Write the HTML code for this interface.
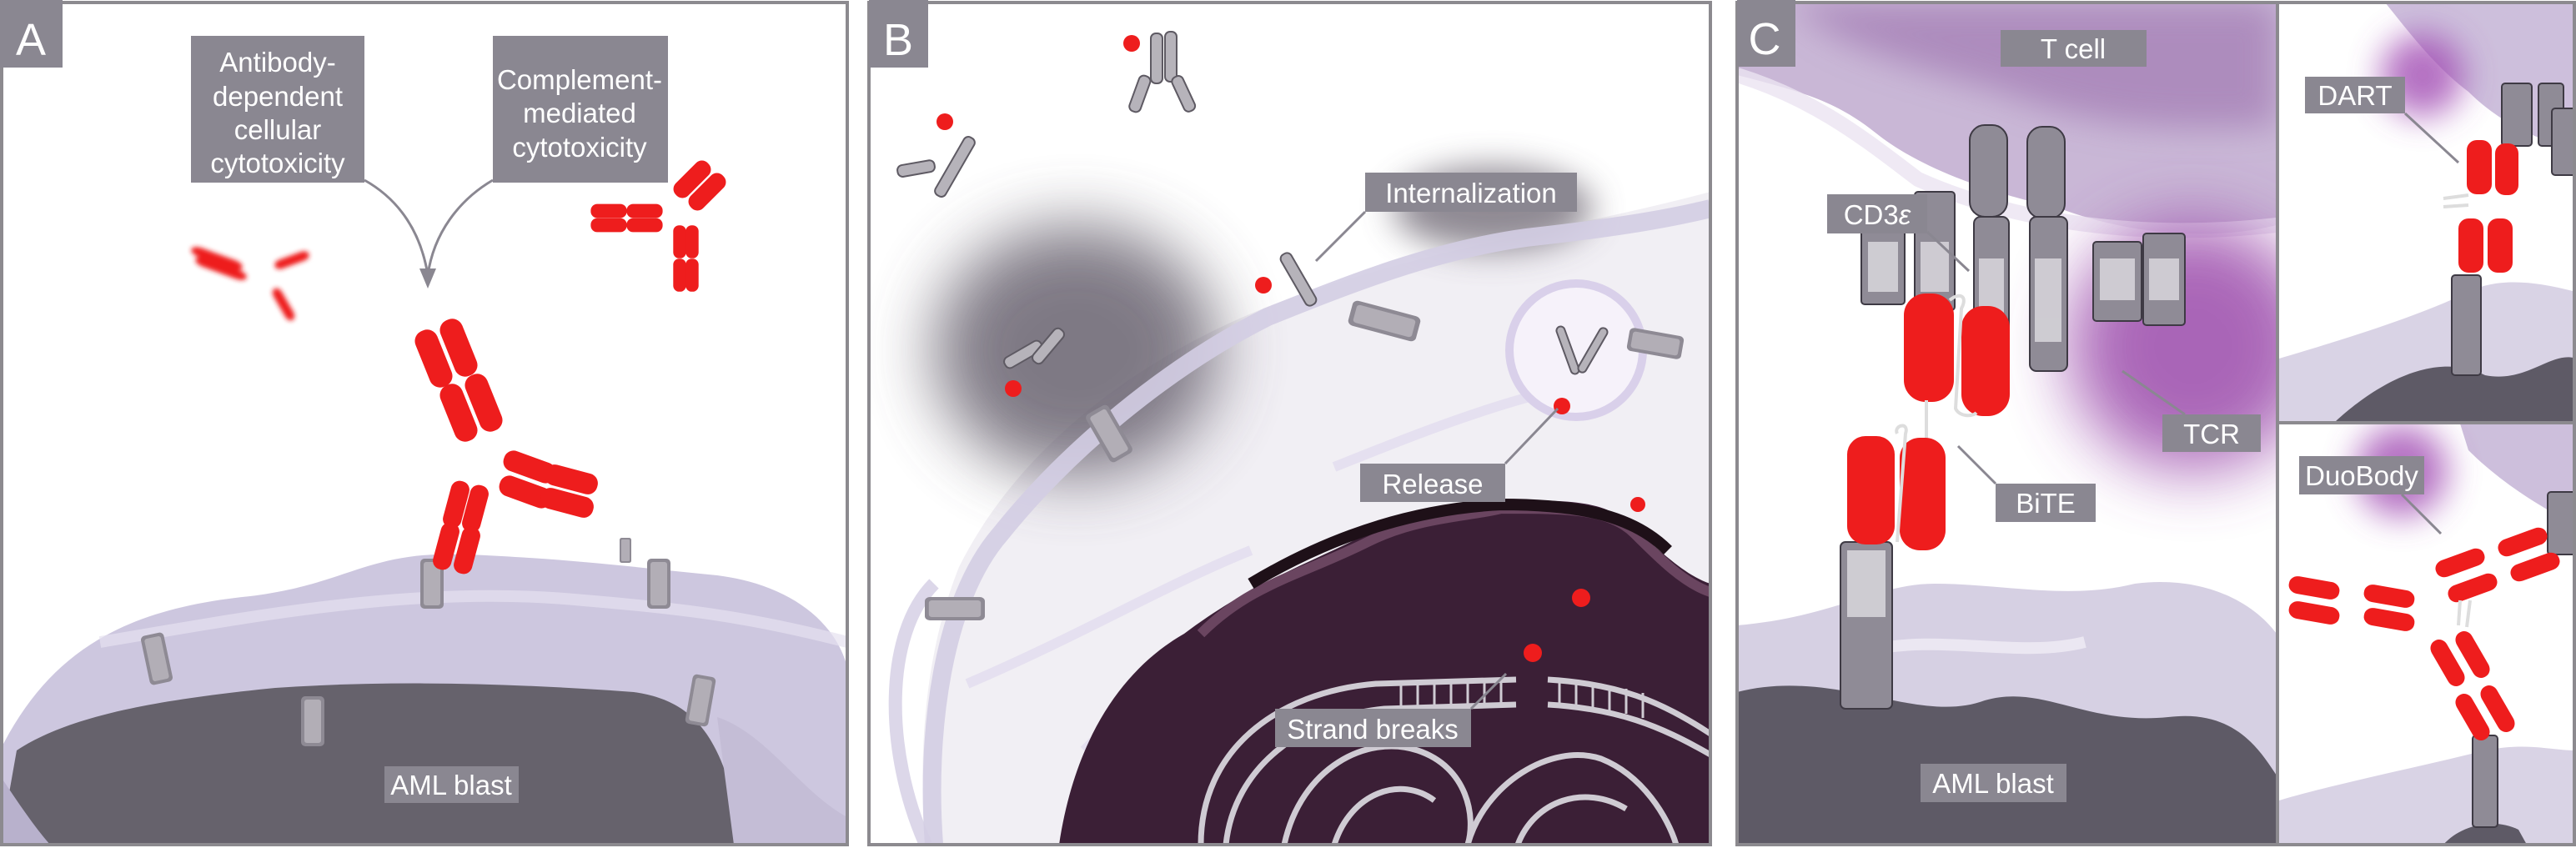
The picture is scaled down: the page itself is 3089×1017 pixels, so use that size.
<!DOCTYPE html>
<html><head><meta charset="utf-8">
<style>
html,body{margin:0;padding:0;background:#fff;}
svg{display:block;}
text{font-family:"Liberation Sans",sans-serif;fill:#fff;}
</style></head>
<body>
<svg width="3089" height="1017" viewBox="0 0 3089 1017" xmlns="http://www.w3.org/2000/svg">
<defs>
<filter id="b20" x="-50%" y="-50%" width="200%" height="200%"><feGaussianBlur stdDeviation="20"/></filter>
<filter id="b40" x="-50%" y="-50%" width="200%" height="200%"><feGaussianBlur stdDeviation="40"/></filter>
<filter id="b3"><feGaussianBlur stdDeviation="3"/></filter>
<clipPath id="cA"><rect x="2" y="3" width="1014" height="1010"/></clipPath>
<clipPath id="cB"><rect x="1042" y="3" width="1009" height="1010"/></clipPath>
<clipPath id="cC"><rect x="2083" y="3" width="647" height="1010"/></clipPath>
<clipPath id="cD"><rect x="2733" y="3" width="354" height="503"/></clipPath>
<clipPath id="cE"><rect x="2733" y="508" width="354" height="505"/></clipPath>
<g id="rec"><rect x="-14" y="-30" width="28" height="60" rx="5" fill="#8e8a94"/><rect x="-10" y="-26" width="20" height="52" rx="3" fill="#c9c6cd" opacity=".6"/></g>
<g id="cap"><rect x="-14" y="-36" width="28" height="72" rx="13" fill="#ee1d1d"/></g>
</defs>

<!-- ============ PANEL A ============ -->
<g clip-path="url(#cA)">
<rect x="2" y="3" width="1014" height="1010" fill="#fff"/>
<path d="M0,900 C60,780 150,730 300,715 C420,700 440,660 560,665 C680,670 760,680 860,690 C940,700 1000,740 1016,800 L1016,1013 L0,1013 Z" fill="#cdc7df"/>
<path d="M120,770 C300,740 500,700 700,720 C820,730 900,740 1016,770" fill="none" stroke="#e6e1ef" stroke-width="14" opacity=".7"/>
<path d="M0,1013 L20,900 C80,860 180,840 330,825 C480,815 620,820 760,830 C830,840 870,880 890,1013 Z" fill="#66626c"/>
<path d="M0,930 C20,960 40,990 60,1013 L0,1013 Z" fill="#b8b1cc"/>
<path d="M860,860 C920,880 960,950 1016,980 L1016,1013 L880,1013 Z" fill="#c4bdd6"/>
<use href="#rec" transform="translate(188,790) rotate(-12)"/>
<use href="#rec" transform="translate(375,865)"/>
<use href="#rec" transform="translate(518,700)"/>
<use href="#rec" transform="translate(790,700)"/>
<use href="#rec" transform="translate(840,840) rotate(10)"/>
<use href="#rec" transform="translate(750,660) scale(.5)"/>
<g transform="translate(580,565)">
<use href="#cap" transform="translate(-60,-135) rotate(-22)"/>
<use href="#cap" transform="translate(-30,-148) rotate(-22)"/>
<use href="#cap" transform="translate(-30,-70) rotate(-22)"/>
<use href="#cap" transform="translate(0,-82) rotate(-22)"/>
<use href="#cap" transform="translate(55,-5) rotate(-70) scale(.9)"/>
<use href="#cap" transform="translate(50,25) rotate(-70) scale(.9)"/>
<use href="#cap" transform="translate(105,10) rotate(-75) scale(.9)"/>
<use href="#cap" transform="translate(100,38) rotate(-75) scale(.9)"/>
<use href="#cap" transform="translate(-33,40) rotate(15) scale(.8)"/>
<use href="#cap" transform="translate(-10,45) rotate(15) scale(.8)"/>
<use href="#cap" transform="translate(-45,90) rotate(15) scale(.8)"/>
<use href="#cap" transform="translate(-20,95) rotate(15) scale(.8)"/>
</g>
<g transform="translate(810,270)">
<use href="#cap" transform="translate(-80,-17) rotate(90) scale(.6)"/>
<use href="#cap" transform="translate(-37,-17) rotate(90) scale(.6)"/>
<use href="#cap" transform="translate(-80,0) rotate(90) scale(.6)"/>
<use href="#cap" transform="translate(-37,0) rotate(90) scale(.6)"/>
<use href="#cap" transform="translate(20,-55) rotate(45) scale(.75)"/>
<use href="#cap" transform="translate(38,-40) rotate(45) scale(.75)"/>
<use href="#cap" transform="translate(5,20) scale(.55)"/>
<use href="#cap" transform="translate(20,20) scale(.55)"/>
<use href="#cap" transform="translate(5,60) scale(.55)"/>
<use href="#cap" transform="translate(20,60) scale(.55)"/>
</g>
<g filter="url(#b3)" transform="translate(325,330)">
<use href="#cap" transform="translate(-65,-20) rotate(-70) scale(.4,.9)"/>
<use href="#cap" transform="translate(-60,-8) rotate(-70) scale(.4,.9)"/>
<use href="#cap" transform="translate(25,-18) rotate(-110) scale(.4,.6)"/>
<use href="#cap" transform="translate(15,35) rotate(-30) scale(.4,.6)"/>
</g>
<path d="M437,216 C480,240 505,280 513,330" fill="none" stroke="#8a8791" stroke-width="3"/>
<path d="M591,216 C550,240 520,280 513,330" fill="none" stroke="#8a8791" stroke-width="3"/>
<polygon points="503,322 523,322 513,346" fill="#8a8791"/>
</g>
<rect x="2" y="3" width="1014" height="1010" fill="none" stroke="#8c8a8f" stroke-width="4"/>
<rect x="0" y="0" width="75" height="81" fill="#8a8791"/>
<text x="37" y="66" font-size="54" text-anchor="middle">A</text>
<rect x="229" y="43" width="208" height="176" fill="#8a8791"/>
<text font-size="33" text-anchor="middle"><tspan x="333" y="86">Antibody-</tspan><tspan x="333" y="127">dependent</tspan><tspan x="333" y="167">cellular</tspan><tspan x="333" y="207">cytotoxicity</tspan></text>
<rect x="591" y="43" width="210" height="176" fill="#8a8791"/>
<text font-size="33" text-anchor="middle"><tspan x="695" y="107">Complement-</tspan><tspan x="695" y="147">mediated</tspan><tspan x="695" y="188">cytotoxicity</tspan></text>
<rect x="461" y="919" width="161" height="44" fill="#8a8791"/>
<text x="541" y="953" font-size="33" text-anchor="middle">AML blast</text>

<!-- ============ PANEL B ============ -->
<g clip-path="url(#cB)">
<rect x="1042" y="3" width="1009" height="1010" fill="#fff"/>
<path d="M1110,1013 C1100,900 1110,780 1150,680 C1230,520 1400,400 1600,340 C1760,290 1900,270 2051,230 L2051,1013 Z" fill="#f1eff4"/>
<ellipse cx="1290" cy="420" rx="170" ry="150" fill="#5f5866" filter="url(#b40)" opacity=".8"/>
<ellipse cx="1790" cy="250" rx="120" ry="50" fill="#6a6470" filter="url(#b20)" opacity=".75"/>
<path d="M1120,1013 C1110,880 1130,720 1200,640 C1280,540 1400,440 1520,380 C1620,340 1720,300 1830,285 C1920,275 1990,265 2051,250" fill="none" stroke="#d3cde3" stroke-width="22" opacity=".9"/>
<path d="M1110,1013 C1060,900 1060,760 1120,700" fill="none" stroke="#d3cde3" stroke-width="16" opacity=".8"/>
<path d="M1160,820 C1300,760 1400,700 1500,660 M1300,900 C1400,800 1500,760 1650,700 M1600,560 C1700,520 1800,480 1900,460" fill="none" stroke="#ddd6ec" stroke-width="12" opacity=".6"/>
<circle cx="1890" cy="420" r="80" fill="#f6f2fa" stroke="#d9d0ea" stroke-width="10"/>
<path d="M1270,1013 C1290,880 1350,800 1420,760 C1500,700 1560,680 1640,640 C1700,610 1760,615 1800,600 C1880,600 1920,600 1950,625 C1990,660 2020,690 2051,700 L2051,1013 Z" fill="#3b1f36"/>
<path d="M1440,760 C1500,700 1560,690 1640,650 C1700,620 1760,620 1800,610 C1880,610 1930,610 1960,640 C1990,670 2020,700 2051,710" fill="none" stroke="#6a4560" stroke-width="12"/>
<path d="M1500,700 C1600,640 1700,610 1800,605 C1900,605 1960,620 2000,660" fill="none" stroke="#1e1018" stroke-width="14"/>
<g fill="none" stroke="#cfcbd3" stroke-width="7">
<path d="M1440,1013 C1440,900 1530,830 1650,820 L1818,815"/>
<path d="M1470,1013 C1480,920 1560,860 1660,850 L1818,845"/>
<path d="M1856,815 C1940,820 1990,840 2051,880"/>
<path d="M1856,845 C1940,850 1990,870 2051,905"/>
<path d="M1540,1013 C1560,920 1640,880 1700,900 C1760,920 1770,980 1760,1013"/>
<path d="M1600,1013 C1620,950 1680,930 1720,960"/>
<path d="M1760,1013 C1780,940 1860,890 1920,910 C1970,930 2000,980 2010,1013"/>
<path d="M1820,1013 C1840,960 1900,940 1950,970"/>
</g>
<g stroke="#cfcbd3" stroke-width="3">
<path d="M1680,820 V850 M1700,819 V849 M1720,818 V848 M1740,817 V847 M1760,816 V846 M1780,816 V846 M1800,815 V845 M1870,816 V846 M1890,817 V847 M1910,819 V849 M1930,822 V852 M1950,826 V856 M1970,831 V861"/>
</g>
<use href="#rec" transform="translate(1330,520) rotate(-30) scale(1.1)"/>
<use href="#rec" transform="translate(1145,730) rotate(90) scale(1,1.2)"/>
<use href="#rec" transform="translate(1660,385) rotate(-75) scale(1.1,1.4)"/>
<use href="#rec" transform="translate(1985,412) rotate(-80) scale(1,1.1)"/>
<g fill="#b6b3ba" stroke="#5e5a63" stroke-width="2">
<rect x="1380" y="40" width="14" height="60" rx="6"/><rect x="1397" y="38" width="14" height="60" rx="6"/>
<rect x="1360" y="90" width="14" height="45" rx="6" transform="rotate(20 1367 112)"/><rect x="1412" y="90" width="14" height="45" rx="6" transform="rotate(-25 1419 112)"/>
<rect x="1138" y="160" width="14" height="80" rx="6" transform="rotate(30 1145 200)"/><rect x="1092" y="180" width="14" height="45" rx="6" transform="rotate(80 1099 202)"/>
<rect x="1220" y="400" width="14" height="50" rx="6" transform="rotate(60 1227 425)"/><rect x="1250" y="390" width="14" height="50" rx="6" transform="rotate(40 1257 415)"/>
<rect x="1550" y="300" width="14" height="70" rx="6" transform="rotate(-30 1557 335)"/>
<rect x="1875" y="390" width="10" height="60" rx="5" transform="rotate(-20 1880 420)"/>
<rect x="1905" y="390" width="10" height="60" rx="5" transform="rotate(30 1910 420)"/>
</g>
<g fill="#ee1d1d">
<circle cx="1357" cy="52" r="10"/><circle cx="1133" cy="146" r="10"/><circle cx="1215" cy="466" r="10"/>
<circle cx="1515" cy="342" r="10"/><circle cx="1873" cy="487" r="10"/><circle cx="1964" cy="605" r="9"/>
<circle cx="1896" cy="717" r="11"/><circle cx="1838" cy="783" r="11"/>
</g>
<g stroke="#8a8791" stroke-width="3">
<line x1="1637" y1="254" x2="1578" y2="313"/>
<line x1="1805" y1="556" x2="1868" y2="490"/>
<line x1="1764" y1="850" x2="1806" y2="808"/>
</g>
</g>
<rect x="1042" y="3" width="1009" height="1010" fill="none" stroke="#8c8a8f" stroke-width="4"/>
<rect x="1042" y="0" width="71" height="81" fill="#8a8791"/>
<text x="1077" y="66" font-size="54" text-anchor="middle">B</text>
<rect x="1637" y="207" width="254" height="47" fill="#8a8791"/>
<text x="1764" y="243" font-size="33" text-anchor="middle">Internalization</text>
<rect x="1631" y="556" width="174" height="46" fill="#8a8791"/>
<text x="1718" y="592" font-size="33" text-anchor="middle">Release</text>
<rect x="1529" y="850" width="235" height="46" fill="#8a8791"/>
<text x="1646" y="886" font-size="33" text-anchor="middle">Strand breaks</text>

<!-- ============ PANEL C main ============ -->
<g clip-path="url(#cC)">
<rect x="2083" y="3" width="647" height="1010" fill="#fff"/>
<path d="M2083,3 L2730,3 L2730,270 C2650,290 2550,280 2470,250 C2380,230 2300,200 2250,160 C2200,120 2160,110 2083,90 Z" fill="#c9b7d6"/>
<path d="M2150,3 L2730,3 L2730,150 C2600,160 2500,150 2400,110 C2300,80 2200,60 2150,3 Z" fill="#a27ab3" opacity=".7" filter="url(#b20)"/>
<path d="M2083,90 C2180,120 2240,170 2300,215 C2400,260 2550,290 2730,270" fill="none" stroke="#ebe4f1" stroke-width="18" opacity=".8"/>
<circle cx="2630" cy="415" r="150" fill="#9b4cab" filter="url(#b40)" opacity=".85"/>
<path d="M2083,750 C2200,740 2250,700 2320,700 C2400,700 2480,720 2560,700 C2640,690 2700,720 2730,760 L2730,1013 L2083,1013 Z" fill="#d6d0e3"/>
<path d="M2083,830 C2200,800 2300,870 2380,840 C2450,820 2500,870 2600,860 C2680,850 2710,900 2730,930 L2730,1013 L2083,1013 Z" fill="#5e5a66"/>
<path d="M2240,780 C2330,760 2420,790 2500,770" fill="none" stroke="#f0ecf5" stroke-width="14" opacity=".8"/>
<g fill="#8f8b96" stroke="#3e3a44" stroke-width="2">
<rect x="2362" y="150" width="45" height="110" rx="18"/><rect x="2431" y="152" width="45" height="110" rx="18"/>
<rect x="2367" y="260" width="42" height="185" rx="8"/><rect x="2434" y="260" width="45" height="185" rx="8"/>
<rect x="2232" y="245" width="52" height="120" rx="4"/><rect x="2296" y="230" width="48" height="142" rx="4"/>
<rect x="2510" y="290" width="58" height="95" rx="4"/><rect x="2570" y="280" width="50" height="110" rx="4"/>
<rect x="2207" y="650" width="62" height="200" rx="6"/>
</g>
<g fill="#e3e1e6" opacity=".75">
<rect x="2240" y="290" width="36" height="60"/><rect x="2303" y="290" width="34" height="60"/>
<rect x="2373" y="310" width="30" height="100"/><rect x="2440" y="310" width="32" height="100"/>
<rect x="2518" y="310" width="42" height="50"/><rect x="2577" y="310" width="36" height="50"/>
<rect x="2215" y="660" width="46" height="80"/>
</g>
<g fill="#ee1d1d">
<rect x="2283" y="352" width="60" height="130" rx="26"/>
<rect x="2352" y="367" width="58" height="132" rx="26"/>
<rect x="2215" y="523" width="57" height="130" rx="22"/>
<rect x="2278" y="525" width="55" height="135" rx="24"/>
</g>
<path d="M2338,360 C2350,350 2360,355 2352,370 L2345,490 C2350,500 2365,500 2370,495 M2310,480 L2310,525 M2275,520 C2270,510 2290,505 2285,520 L2275,650" fill="none" stroke="#ddd" stroke-width="4"/>
<g stroke="#8a8791" stroke-width="3">
<line x1="2311" y1="278" x2="2361" y2="325"/>
<line x1="2620" y1="497" x2="2545" y2="445"/>
<line x1="2393" y1="580" x2="2348" y2="535"/>
</g>
</g>
<g clip-path="url(#cD)">
<rect x="2733" y="3" width="354" height="503" fill="#fff"/>
<path d="M2860,3 L3089,3 L3089,180 C3050,170 3000,150 2960,110 C2920,80 2890,40 2860,3 Z" fill="#cdbfdc"/>
<circle cx="2905" cy="90" r="50" fill="#a24db4" filter="url(#b20)" opacity=".8"/>
<path d="M2733,430 C2800,410 2900,380 2960,350 C3000,330 3050,340 3089,350 L3089,506 L2733,506 Z" fill="#d9d3e5"/>
<path d="M2800,506 C2850,460 2920,420 2980,450 C3030,460 3060,420 3089,430 L3089,506 Z" fill="#5e5a66"/>
<g fill="#8f8b96" stroke="#3e3a44" stroke-width="2">
<rect x="3000" y="100" width="36" height="75" rx="4"/><rect x="3044" y="100" width="30" height="75" rx="4"/>
<rect x="3060" y="130" width="30" height="80" rx="4"/>
<rect x="2940" y="330" width="35" height="120" rx="4"/>
</g>
<g fill="#ee1d1d">
<rect x="2958" y="168" width="30" height="65" rx="12"/><rect x="2992" y="172" width="28" height="62" rx="12"/>
<rect x="2948" y="262" width="30" height="65" rx="12"/><rect x="2983" y="262" width="30" height="65" rx="12"/>
</g>
<path d="M2930,238 L2960,234 M2930,248 L2960,246" stroke="#ddd" stroke-width="4"/>
<line x1="2884" y1="136" x2="2948" y2="195" stroke="#8a8791" stroke-width="3"/>
</g>
<g clip-path="url(#cE)">
<rect x="2733" y="508" width="354" height="505" fill="#fff"/>
<path d="M2950,508 L3089,508 L3089,630 C3050,610 3000,580 2960,540 Z" fill="#cdbfdc"/>
<circle cx="2880" cy="565" r="55" fill="#a24db4" filter="url(#b20)" opacity=".8"/>
<path d="M2733,960 C2800,940 2900,920 2980,900 C3030,890 3060,900 3089,900 L3089,1013 L2733,1013 Z" fill="#d9d3e5"/>
<path d="M2930,1013 C2950,990 2990,980 3020,995 L3030,1013 Z" fill="#5e5a66"/>
<g fill="#8f8b96" stroke="#3e3a44" stroke-width="2">
<rect x="3055" y="590" width="34" height="75" rx="4"/>
<rect x="2965" y="882" width="30" height="110" rx="4"/>
</g>
<g transform="translate(2955,735)">
<use href="#cap" transform="translate(-90,-20) rotate(100) scale(.75,.85)"/>
<use href="#cap" transform="translate(-90,8) rotate(100) scale(.75,.85)"/>
<use href="#cap" transform="translate(-180,-30) rotate(100) scale(.75,.85)"/>
<use href="#cap" transform="translate(-180,0) rotate(100) scale(.75,.85)"/>
<use href="#cap" transform="translate(-5,-60) rotate(-110) scale(.75,.85)"/>
<use href="#cap" transform="translate(10,-30) rotate(-110) scale(.75,.85)"/>
<use href="#cap" transform="translate(70,-85) rotate(-110) scale(.75,.85)"/>
<use href="#cap" transform="translate(85,-55) rotate(-110) scale(.75,.85)"/>
<use href="#cap" transform="translate(-20,60) rotate(-30) scale(.75,.85)"/>
<use href="#cap" transform="translate(10,50) rotate(-30) scale(.75,.85)"/>
<use href="#cap" transform="translate(10,125) rotate(-30) scale(.75,.85)"/>
<use href="#cap" transform="translate(40,115) rotate(-30) scale(.75,.85)"/>
</g>
<path d="M2950,720 L2948,750 M2962,720 L2958,752" stroke="#ddd" stroke-width="4"/>
<line x1="2880" y1="593" x2="2927" y2="640" stroke="#8a8791" stroke-width="3"/>
</g>
<rect x="2083" y="3" width="1004" height="1010" fill="none" stroke="#8c8a8f" stroke-width="4"/>
<line x1="2731" y1="3" x2="2731" y2="1013" stroke="#8c8a8f" stroke-width="4"/>
<line x1="2731" y1="507" x2="3089" y2="507" stroke="#8c8a8f" stroke-width="4"/>
<rect x="2083" y="0" width="70" height="80" fill="#8a8791"/>
<text x="2116" y="65" font-size="54" text-anchor="middle">C</text>
<rect x="2399" y="36" width="175" height="44" fill="#8a8791"/>
<text x="2486" y="70" font-size="33" text-anchor="middle">T cell</text>
<rect x="2191" y="233" width="120" height="47" fill="#8a8791"/>
<text x="2251" y="269" font-size="33" text-anchor="middle">CD3<tspan font-style="italic">ε</tspan></text>
<rect x="2593" y="497" width="118" height="45" fill="#8a8791"/>
<text x="2652" y="532" font-size="33" text-anchor="middle">TCR</text>
<rect x="2393" y="580" width="120" height="46" fill="#8a8791"/>
<text x="2453" y="615" font-size="33" text-anchor="middle">BiTE</text>
<rect x="2303" y="916" width="175" height="46" fill="#8a8791"/>
<text x="2390" y="951" font-size="33" text-anchor="middle">AML blast</text>
<rect x="2764" y="92" width="120" height="44" fill="#8a8791"/>
<text x="2824" y="126" font-size="33" text-anchor="middle">DART</text>
<rect x="2757" y="547" width="150" height="46" fill="#8a8791"/>
<text x="2832" y="582" font-size="33" text-anchor="middle">DuoBody</text>
</svg>
</body></html>
